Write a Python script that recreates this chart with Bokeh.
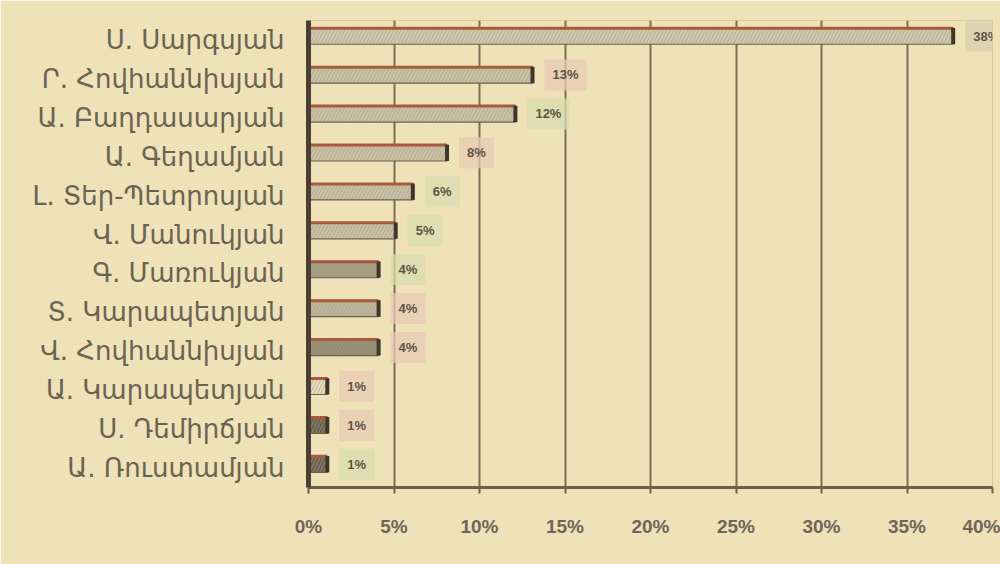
from bokeh.plotting import figure
from bokeh.models import FactorRange, ColumnDataSource, NumeralTickFormatter, FixedTicker
from bokeh.core.properties import value
from bokeh.transform import dodge
from bokeh.embed import file_html
from bokeh.resources import INLINE

names = ["Ս. Սարգսյան", "Ր. Հովհաննիսյան", "Ա. Բաղդասարյան", "Ա. Գեղամյան",
         "Լ. Տեր-Պետրոսյան", "Վ. Մանուկյան", "Գ. Մառուկյան", "Տ. Կարապետյան",
         "Վ. Հովհաննիսյան", "Ա. Կարապետյան", "Ս. Դեմիրճյան", "Ա. Ռուստամյան"]
values = [37.7, 13.1, 12.1, 8.1, 6.1, 5.1, 4.1, 4.1, 4.1, 1.1, 1.1, 1.1]
labels = ["38%", "13%", "12%", "8%", "6%", "5%", "4%", "4%", "4%", "1%", "1%", "1%"]
x_ticks = [0, 5, 10, 15, 20, 25, 30, 35, 40]

bar_fills = ["#cfc8ad", "#c8c1a4", "#c8c1a4", "#c8c1a4", "#c8c1a4", "#c8c1a4",
             "#a39b82", "#bdb59a", "#958c74", "#e6dbba", "#6e6250", "#6e6250"]
box_fills = ["#d9cfb0", "#e8c9b4", "#d9dcb0", "#e8c9b4", "#d9dcb0", "#d9dcb0",
             "#d9dcb0", "#e8c9b4", "#e8c9b4", "#e8c9b4", "#e8c9b4", "#d9dcb0"]

bg = "#efe1b8"
src = ColumnDataSource(dict(name=names, val=values, lab=labels,
                            fill=bar_fills, box=box_fills))

p = figure(width=1000, height=564, output_backend="svg", toolbar_location=None,
           y_range=FactorRange(factors=list(reversed(names))),
           x_range=(0, 40),
           min_border_left=308, min_border_right=8, min_border_top=20, min_border_bottom=77)
p.background_fill_color = bg
p.border_fill_color = bg
p.outline_line_color = "#d6c9a4"
p.outline_line_width = 1

# grid
p.ygrid.grid_line_color = None
p.xgrid.ticker = FixedTicker(ticks=x_ticks)
p.xgrid.grid_line_color = "#7a6e58"
p.xgrid.grid_line_width = 2

off = 0.1
# bars
p.hbar(y=dodge("name", off, range=p.y_range), left=0, right="val", height=0.42, source=src,
       fill_color="fill", line_color="#6b604c", line_width=1.2,
       hatch_pattern="right_diagonal_line", hatch_color="#a59d85",
       hatch_scale=7, hatch_weight=1, hatch_alpha=0.6)
# reddish top edge
p.segment(x0=0, x1="val", y0=dodge("name", off + 0.2, range=p.y_range),
          y1=dodge("name", off + 0.2, range=p.y_range), source=src,
          line_color="#a85a3c", line_width=3)
# dark right end
p.segment(x0="val", x1="val", y0=dodge("name", off - 0.21, range=p.y_range),
          y1=dodge("name", off + 0.21, range=p.y_range), source=src,
          line_color="#3f372a", line_width=4)

# value labels
p.text(x="val", y=dodge("name", off, range=p.y_range), text="lab", source=src, x_offset=12,
       text_baseline="middle", text_align="left",
       text_font=value("Liberation Sans"), text_font_size="13px",
       text_font_style="bold", text_color="#5e5446",
       background_fill_color="box", background_fill_alpha=0.75,
       padding=8)

# axes
p.xaxis.ticker = FixedTicker(ticks=x_ticks)
p.xaxis.formatter = NumeralTickFormatter(format="0")
p.xaxis.major_label_overrides = {t: f"{t}%" for t in x_ticks}
p.xaxis.axis_line_color = "#6e5f48"
p.xaxis.axis_line_width = 3
p.xaxis.major_tick_line_color = "#6e5f48"
p.xaxis.major_tick_line_width = 2
p.xaxis.major_tick_in = 0
p.xaxis.major_tick_out = 6
p.xaxis.minor_tick_line_color = None
p.xaxis.major_label_standoff = 22
p.xaxis.major_label_text_font = "Liberation Sans"
p.xaxis.major_label_text_font_style = "bold"
p.xaxis.major_label_text_font_size = "19px"
p.xaxis.major_label_text_color = "#6e665a"

p.yaxis.axis_line_color = "#4a3f30"
p.yaxis.axis_line_width = 5
p.yaxis.major_tick_line_color = None
p.yaxis.major_tick_in = 0
p.yaxis.major_tick_out = 0
p.yaxis.major_label_standoff = 24
p.yaxis.major_label_text_font = "DejaVu Sans"
p.yaxis.major_label_text_font_size = "26px"
p.yaxis.major_label_text_color = "#6a6352"

open("out.html", "w").write(file_html(p, INLINE))
